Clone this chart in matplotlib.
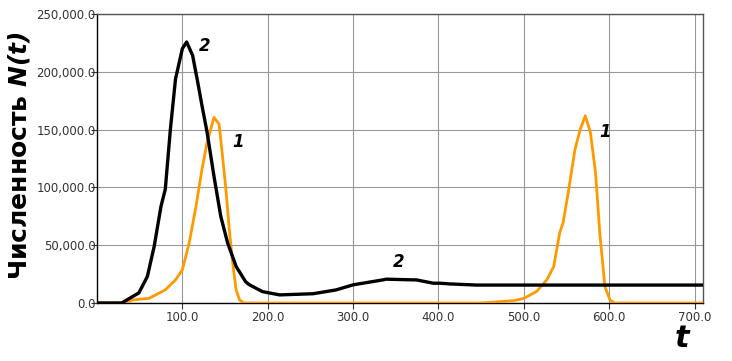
import numpy as np
import matplotlib.pyplot as plt

# curve 1 (orange)
t1 = [0, 35, 41, 61, 80, 92, 100, 108, 116, 123, 129, 137, 143, 147, 151, 155, 159, 163, 167, 172,
      450, 488, 500, 515, 527, 535, 542, 546, 552, 560, 566, 572, 578, 584, 589, 595, 601, 606, 710]
n1 = [0, 0, 2600, 4000, 11300, 20000, 28700, 52000, 83700, 115600, 138900, 160600, 154800, 127200,
      98300, 63500, 34500, 11300, 2600, 0,
      0, 2000, 4000, 10000, 20000, 31500, 60600, 69500, 95400, 133000, 150000, 162000, 147600,
      112800, 60600, 14000, 2600, 0, 0]

# curve 2 (black)
t2 = [0, 29, 37, 49, 59, 67, 75, 80, 86, 92, 100, 105, 112, 118, 123, 129, 137, 145, 153, 163,
      174, 178, 190, 194, 214, 253, 280, 300, 335, 339, 370, 374, 394, 402, 413, 445, 452, 710]
n2 = [0, 0, 3500, 8700, 22900, 49000, 83700, 98300, 150400, 193900, 220000, 225800, 214200, 191000,
      170700, 147600, 109800, 75000, 52000, 31600, 18500, 16000, 11300, 9800, 7000, 8000, 11300,
      15700, 20000, 20600, 20000, 20000, 17100, 17100, 16500, 15500, 15500, 15500]

labels = [('2', 126.6, 222600), ('1', 165.4, 139100), ('2', 353.3, 35650), ('1', 595.3, 147800)]

xticks = [100, 200, 300, 400, 500, 600, 700]
yticks = [0, 50000, 100000, 150000, 200000, 250000]

fig = plt.figure(figsize=(7.32, 3.61), dpi=100)
ax = fig.add_axes([0.1325, 0.1607, 0.828, 0.8005])

ax.plot(t1, n1, color='#FF9900', linewidth=2.0, zorder=3)
ax.plot(t2, n2, color='black', linewidth=2.4, zorder=4)

for s, x, y in labels:
    ax.text(x, y, s, fontsize=12, fontweight='bold', fontstyle='italic', ha='center', va='center')

ax.set_xlim(0, 710)
ax.set_ylim(0, 250000)
ax.set_xticks(xticks)
ax.set_yticks(yticks)
ax.set_xticklabels(['%.1f' % v for v in xticks])
ax.set_yticklabels(['{:,.1f}'.format(v) for v in yticks])
ax.tick_params(labelsize=8.5, colors='#333333', length=4, width=0.8)
ax.tick_params(axis='x', pad=2)
ax.tick_params(axis='y', pad=-3)
ax.grid(color='#999999', linewidth=0.8)
ax.set_axisbelow(True)
for sp in ax.spines.values():
    sp.set_color('#555555')
    sp.set_linewidth(1.0)
ax.spines['left'].set_color('black')
ax.spines['bottom'].set_color('black')

fig.text(0.026, 0.57, r'Численность $\mathbfit{N(t)}$', rotation=90, fontsize=18,
         fontweight='bold', ha='center', va='center')
fig.text(0.932, 0.062, 't', fontsize=22, fontweight='bold', fontstyle='italic',
         ha='center', va='center')

fig.savefig('out.png', dpi=100)
